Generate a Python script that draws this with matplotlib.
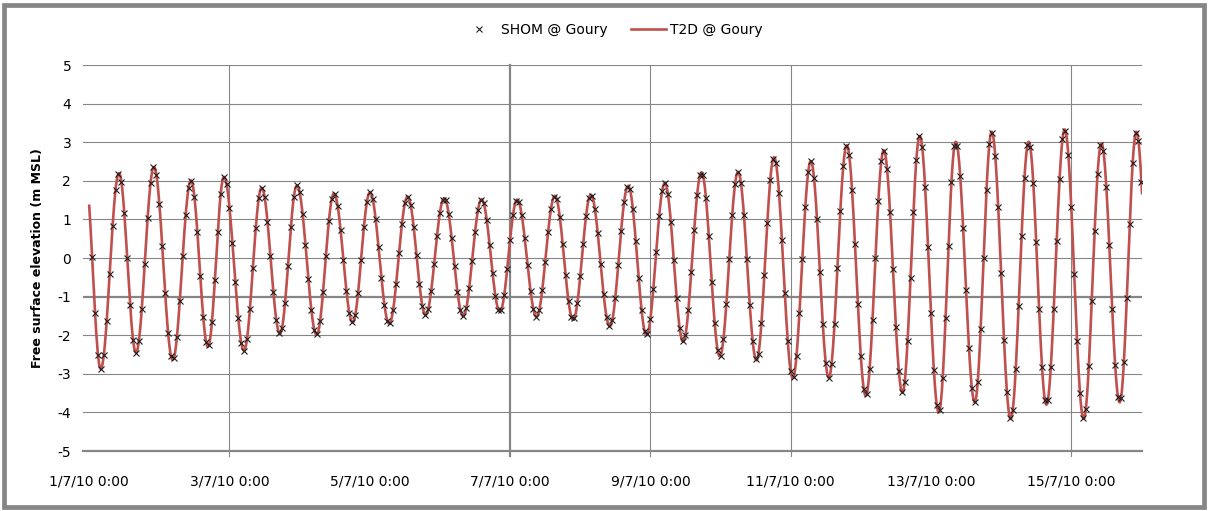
import numpy as np
import matplotlib
matplotlib.use("Agg")
import matplotlib.pyplot as plt
from matplotlib.lines import Line2D
from matplotlib.patches import Rectangle

plt.rcParams["font.family"] = "DejaVu Sans"
plt.rcParams["axes.unicode_minus"] = False

# high / low water (hours after 1/7/10 0:00, m MSL)
# first HW and last LW lie just outside the plotted record, they only set the curve's slope at its ends
ext_hours = [-1.44, 3.93, 10.19, 16.01, 22.16, 28.56, 34.82, 40.63, 46.11, 52.95,
             59.00, 65.26, 71.07, 77.81, 83.73, 90.12, 96.04, 102.64, 108.94, 115.09,
             121.45, 127.95, 134.25, 140.51, 146.42, 153.06, 159.32, 165.57, 171.63, 178.13,
             184.39, 190.68, 196.94, 203.20, 209.49, 215.75, 222.01, 228.30, 234.32, 240.72,
             246.88, 253.03, 259.19, 265.69, 271.84, 278.24, 284.16, 290.66, 296.47, 302.97,
             308.78, 315.28, 321.44, 327.49, 333.75, 340.25, 346.31, 352.56, 358.27, 364.36]
ext_level = [2.20, -2.87, 2.20, -2.45, 2.36, -2.64, 2.01, -2.30, 2.10, -2.40,
             1.82, -1.96, 1.88, -1.99, 1.67, -1.67, 1.70, -1.70, 1.59, -1.48,
             1.55, -1.51, 1.52, -1.39, 1.51, -1.52, 1.61, -1.60, 1.64, -1.77,
             1.87, -2.00, 1.94, -2.17, 2.22, -2.55, 2.23, -2.65, 2.61, -3.11,
             2.51, -3.10, 2.92, -3.57, 2.79, -3.49, 3.16, -4.00, 3.01, -3.74,
             3.27, -4.17, 3.01, -3.80, 3.33, -4.17, 2.97, -3.74, 3.27, -3.70]
record_end = 360.7

tick_hours = [0, 48, 96, 144, 192, 240, 288, 336]
tick_labels = ["1/7/10 0:00", "3/7/10 0:00", "5/7/10 0:00", "7/7/10 0:00",
               "9/7/10 0:00", "11/7/10 0:00", "13/7/10 0:00", "15/7/10 0:00"]
vgrid_hours = [48, 144, 192, 240, 336]

GRID = "#868686"
RED = "#C0504D"


def tide_level(t):
    # half-cosine tide shape between consecutive high and low waters
    h = np.asarray(ext_hours)
    v = np.asarray(ext_level)
    i = np.clip(np.searchsorted(h, t) - 1, 0, len(h) - 2)
    f = (t - h[i]) / (h[i + 1] - h[i])
    return (v[i] + v[i + 1]) / 2 + (v[i] - v[i + 1]) / 2 * np.cos(np.pi * f)


t_model = np.append(np.arange(0, record_end, 0.1), record_end)
t_obs = np.arange(1, 361, 1.0)

W, H = 1208, 511
fig = plt.figure(figsize=(W / 100, H / 100), dpi=100)
fig.patches.append(Rectangle((4 / W, 4 / H), 1 - 8 / W, 1 - 9 / H, transform=fig.transFigure,
                             fill=False, ec=GRID, lw=3.4))

ax = fig.add_axes([83 / W, 1 - 451 / H, (1142 - 83) / W, (451 - 65) / H])
ax.set_xlim(-2.12, 360.2)
ax.set_ylim(-5, 5)

for s in ["top", "right", "left"]:
    ax.spines[s].set_visible(False)
ax.spines["bottom"].set_color(GRID)
ax.spines["bottom"].set_linewidth(1.6)

for y in range(-4, 6):
    ax.axhline(y, color=GRID, lw=1.6 if y == -1 else 0.8, zorder=0)
for h in vgrid_hours:
    ax.axvline(h, ymin=-0.012, ymax=1, clip_on=False, color=GRID,
               lw=1.6 if h == 144 else 0.8, zorder=0)

ax.plot(t_model, tide_level(t_model), color=RED, lw=1.9, zorder=2)
ax.plot(t_obs, tide_level(t_obs), ls="none", marker="x", ms=5, mew=0.8,
        color="#1e1e1e", zorder=3)

ax.set_yticks(range(-5, 6))
ax.set_yticklabels([str(v) for v in range(-5, 6)])
ax.tick_params(axis="y", length=0, pad=8.5, labelsize=10)
ax.set_xticks(tick_hours)
ax.set_xticklabels(tick_labels)
ax.tick_params(axis="x", length=0, pad=17, labelsize=10)

fig.text(38 / W, 1 - 258 / H, "Free surface elevation (m MSL)", rotation=90,
         ha="center", va="center", fontsize=9, fontweight="bold")

handles = [Line2D([], [], ls="none", marker="x", ms=5, mew=0.8, color="#1e1e1e"),
           Line2D([], [], color=RED, lw=1.9)]
ax.legend(handles, ["SHOM @ Goury", "T2D @ Goury"], loc="center",
          bbox_to_anchor=(612 / W, 1 - 30 / H), bbox_transform=fig.transFigure,
          ncol=2, frameon=False, fontsize=10, handlelength=2.5, handletextpad=0.3,
          columnspacing=1.7)

fig.savefig("out.png", dpi=100)
